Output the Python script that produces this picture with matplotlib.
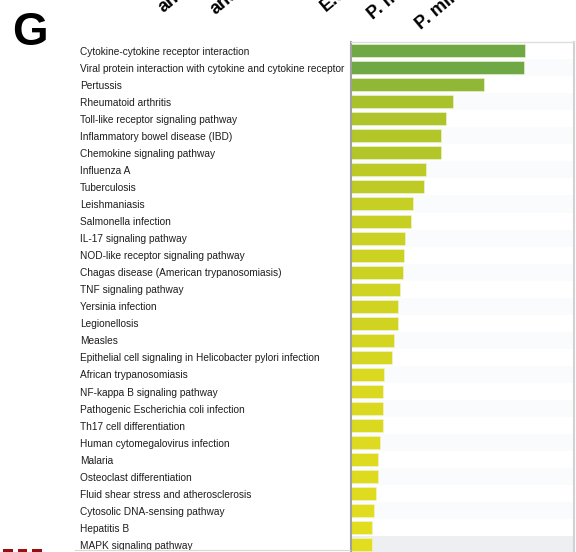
import matplotlib.pyplot as plt
from matplotlib.colors import LinearSegmentedColormap, Normalize
from matplotlib.lines import Line2D

plt.rcParams['font.family'] = ['Liberation Sans', 'DejaVu Sans']

# KEGG pathway enrichment, most significant first
pathways = [
    'Cytokine-cytokine receptor interaction',
    'Viral protein interaction with cytokine and cytokine receptor',
    'Pertussis',
    'Rheumatoid arthritis',
    'Toll-like receptor signaling pathway',
    'Inflammatory bowel disease (IBD)',
    'Chemokine signaling pathway',
    'Influenza A',
    'Tuberculosis',
    'Leishmaniasis',
    'Salmonella infection',
    'IL-17 signaling pathway',
    'NOD-like receptor signaling pathway',
    'Chagas disease (American trypanosomiasis)',
    'TNF signaling pathway',
    'Yersinia infection',
    'Legionellosis',
    'Measles',
    'Epithelial cell signaling in Helicobacter pylori infection',
    'African trypanosomiasis',
    'NF-kappa B signaling pathway',
    'Pathogenic Escherichia coli infection',
    'Th17 cell differentiation',
    'Human cytomegalovirus infection',
    'Malaria',
    'Osteoclast differentiation',
    'Fluid shear stress and atherosclerosis',
    'Cytosolic DNA-sensing pathway',
    'Hepatitis B',
    'MAPK signaling pathway',
]
scores = [20.0, 19.9, 15.3, 11.7, 10.9, 10.3, 10.3, 8.6, 8.4, 7.1,
          6.9, 6.2, 6.1, 6.0, 5.6, 5.4, 5.4, 4.9, 4.7, 3.8,
          3.7, 3.7, 3.7, 3.3, 3.1, 3.1, 2.9, 2.6, 2.4, 2.4]
x_max = 25.6

# column headers of the heatmap above (rotated)
columns = ['antibiotic', 'antiviral', 'E.coli', 'P. mirabilis', 'P. mirabilis LPS']
col_starts = [(164, 13), (216, 15), (326, 12), (373, 20), (421, 30)]
heat_row = [0.9, 0.88, 0.9]

W, H = 576, 552
fig = plt.figure(figsize=(W / 100, H / 100), dpi=100)


def px(x0, y0, x1, y1):
    return [x0 / W, 1 - y1 / H, (x1 - x0) / W, (y1 - y0) / H]


ax = fig.add_axes(px(351, 42, 574, 553.5))
n = len(pathways)
ypos = list(range(n))

# faint zebra stripes, last row highlighted
for i in ypos:
    if i == n - 1:
        ax.axhspan(i - 0.5, i + 0.5, color='#eeeff0', zorder=0, lw=0)
    elif i % 2 == 1:
        ax.axhspan(i - 0.5, i + 0.5, color='#fafbfc', zorder=0, lw=0)

cmap = LinearSegmentedColormap.from_list(
    'yg', [(0.0, '#e2dd1e'), (0.35, '#bdca25'), (0.55, '#a7c12d'), (1.0, '#70a845')])
norm = Normalize(min(scores), max(scores))
ax.barh(ypos, scores, height=0.76, color=[cmap(norm(v)) for v in scores],
        edgecolor='#f4f6d8', linewidth=0.4, zorder=2)

ax.set_xlim(0, x_max)
ax.set_ylim(n - 0.5, -0.5)
ax.set_xticks([])
ax.set_yticks(ypos)
ax.set_yticklabels(pathways, fontsize=7.3, ha='left', color='#1e1e1e')
ax.tick_params(axis='y', length=0, pad=195)

ax.spines['bottom'].set_visible(False)
ax.spines['left'].set_color('#a0a0a0')
ax.spines['left'].set_linewidth(1.5)
ax.spines['top'].set_color('#dedede')
ax.spines['top'].set_linewidth(1.0)
ax.spines['right'].set_color('#d2d2d2')
ax.spines['right'].set_linewidth(1.5)

# bottom rule under the label column
fig.add_artist(Line2D([75 / W, 350 / W], [1 - 550 / H] * 2,
                      color='#d8d8d8', lw=0.8))

# panel letter
fig.text(12 / W, 1 - 45 / H, 'G', fontsize=33, fontweight='bold',
         ha='left', va='baseline')

for name, (x, y) in zip(columns, col_starts):
    fig.text(x / W, 1 - y / H, name, fontsize=13, fontweight='bold',
             rotation=40, rotation_mode='anchor', ha='left', va='baseline')

# edge of the heatmap panel below
hax = fig.add_axes(px(0, 545.5, 44, 560))
hax.pcolormesh([heat_row], cmap='Reds', vmin=0, vmax=1.0,
               edgecolors='white', linewidth=2.2)
hax.set_xlim(0, 3)
hax.set_axis_off()

fig.savefig('out.png', dpi=100)
